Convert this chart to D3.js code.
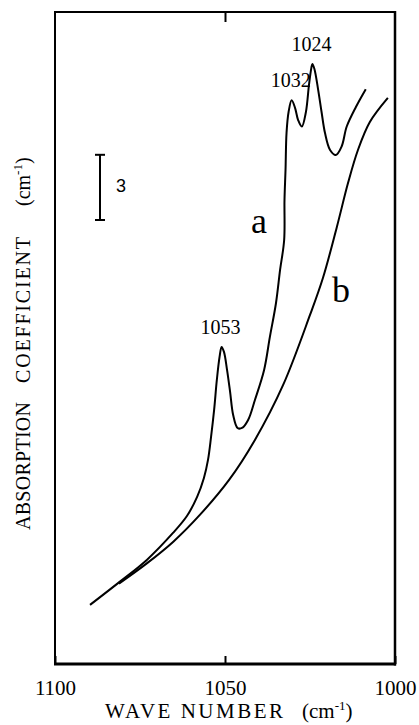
<!DOCTYPE html>
<html><head><meta charset="utf-8">
<script src="https://cdn.jsdelivr.net/npm/d3@7"></script>
<style>
html,body{margin:0;padding:0;background:#fff;}
svg{display:block;}
</style>
</head><body>
<svg id="chart" width="419" height="725"></svg>
<script>
// Curve a (wave number, absorption coefficient)
const waveA = [1089.7,1080.9,1073.0,1065.3,1061.2,1058.2,1056.2,1055.0,1054.1,1053.2,1052.4,1051.6,1051.0,1050.3,1049.4,1048.5,1047.6,1046.3,1045.0,1043.2,1041.2,1038.5,1036.8,1035.0,1033.8,1032.6,1032.5,1032.2,1031.9,1031.3,1030.4,1029.4,1028.5,1027.4,1026.2,1025.3,1024.6,1024.3,1023.7,1022.6,1021.6,1020.6,1019.1,1017.4,1015.7,1014.2,1011.5,1008.6];
const absA  = [2.72,3.79,4.79,6.03,6.81,7.69,8.56,9.39,10.45,11.69,13.07,14.13,14.59,14.36,13.53,12.52,11.46,10.86,10.86,11.23,12.15,13.53,15.05,16.61,18.13,19.51,21.35,22.73,24.44,25.40,25.94,25.59,25.03,24.73,25.40,26.65,27.43,27.61,27.38,26.42,25.40,24.44,23.65,23.42,23.81,24.73,25.63,26.45];
// Curve b
const waveB = [1081.2,1073.0,1065.2,1057.4,1048.8,1041.2,1032.9,1025.0,1021.2,1017.1,1013.8,1010.9,1007.4,1002.1];
const absB  = [3.70,4.63,5.63,6.86,8.47,10.31,12.84,16.06,17.76,20.11,22.14,23.65,24.94,26.05];
// Peak annotations
const peakLabels = ["1053","1032","1024"];
const peakWave = [1051.0,1030.4,1024.3];
const peakAbs  = [14.59,25.94,27.61];
// Axis ticks
const xTicks = [1100,1050,1000];
const xTickLabels = ["1100","1050","1000"];
const scaleBarValue = 3;

const svg = d3.select("#chart");
const L = 55, R = 395, T = 12, B = 664;
const x = d3.scaleLinear().domain([1100,1000]).range([L,R]);
const y = d3.scaleLinear().domain([0,30]).range([B,T]);
const serif = "'Liberation Serif','Times New Roman',serif";

// frame
svg.append("line").attr("x1",L).attr("x2",R).attr("y1",T).attr("y2",T).attr("stroke","#000").attr("stroke-width",2);
svg.append("line").attr("x1",L).attr("x2",L).attr("y1",T-1).attr("y2",B+1).attr("stroke","#000").attr("stroke-width",2);
svg.append("line").attr("x1",R).attr("x2",R).attr("y1",T-1).attr("y2",B+1.5).attr("stroke","#000").attr("stroke-width",2.5);
svg.append("line").attr("x1",L-1).attr("x2",R+1).attr("y1",B).attr("y2",B).attr("stroke","#000").attr("stroke-width",3);

// bottom axis (inward ticks)
const xb = svg.append("g").attr("transform",`translate(0,${B})`)
  .call(d3.axisBottom(x).tickValues(xTicks).tickFormat((d,i)=>xTickLabels[i]).tickSizeInner(-8).tickSizeOuter(0).tickPadding(20));
xb.select(".domain").remove();
xb.selectAll(".tick line").attr("stroke","#000").attr("stroke-width",2);
xb.selectAll(".tick text").attr("font-family",serif).attr("font-size",21).attr("fill","#000").attr("dy","0.5em");

// top axis (single inward tick)
const xt = svg.append("g").attr("transform",`translate(0,${T})`)
  .call(d3.axisTop(x).tickValues([1050]).tickFormat("").tickSizeInner(-10).tickSizeOuter(0));
xt.select(".domain").remove();
xt.selectAll(".tick line").attr("stroke","#000").attr("stroke-width",2);

// curves
const line = d3.line().x(d=>x(d[0])).y(d=>y(d[1])).curve(d3.curveCatmullRom.alpha(0.5));
svg.append("path").datum(waveA.map((w,i)=>[w,absA[i]])).attr("d",line)
  .attr("fill","none").attr("stroke","#000").attr("stroke-width",2).attr("stroke-linejoin","round");
svg.append("path").datum(waveB.map((w,i)=>[w,absB[i]])).attr("d",line)
  .attr("fill","none").attr("stroke","#000").attr("stroke-width",2).attr("stroke-linejoin","round");

// peak labels
peakLabels.forEach((t,i)=>{
  svg.append("text").attr("x",x(peakWave[i])-1).attr("y",y(peakAbs[i])-13)
    .attr("text-anchor","middle").attr("font-family",serif).attr("font-size",20)
    .attr("textLength",40).attr("lengthAdjust","spacingAndGlyphs").text(t);
});

// curve labels
svg.append("text").attr("x",259).attr("y",233).attr("text-anchor","middle")
  .attr("font-family",serif).attr("font-size",36).text("a");
svg.append("text").attr("x",341).attr("y",302).attr("text-anchor","middle")
  .attr("font-family",serif).attr("font-size",36).text("b");

// scale bar (3 units)
const sbx = 100;
const sb0 = 220, sb1 = sb0 - (y(0)-y(scaleBarValue));
svg.append("line").attr("x1",sbx).attr("x2",sbx).attr("y1",sb0).attr("y2",sb1).attr("stroke","#000").attr("stroke-width",2);
[sb0,sb1].forEach(v=>svg.append("line").attr("x1",sbx-5).attr("x2",sbx+5).attr("y1",v).attr("y2",v).attr("stroke","#000").attr("stroke-width",2));
svg.append("text").attr("x",116).attr("y",192).attr("font-family","'Liberation Sans',Arial,sans-serif").attr("font-size",18).text(String(scaleBarValue));

// x axis title
const xt1 = svg.append("text").attr("y",718).attr("font-family",serif).attr("font-size",21);
xt1.append("tspan").attr("x",105).attr("textLength",178).attr("lengthAdjust","spacing").text("WAVE NUMBER");
const xt2 = svg.append("text").attr("x",302).attr("y",718).attr("font-family",serif).attr("font-size",21);
xt2.append("tspan").text("(cm");
xt2.append("tspan").attr("font-size",13).attr("dy",-8).text("-1");
xt2.append("tspan").attr("dy",8).text(")");

// y axis title (rotated)
function yWord(cy, len, txt){
  svg.append("text").attr("transform",`translate(30,${cy}) rotate(-90)`)
    .attr("text-anchor","middle").attr("font-family",serif).attr("font-size",20)
    .attr("textLength",len).attr("lengthAdjust","spacing").text(txt);
}
yWord(466,128,"ABSORPTION");
yWord(310,146,"COEFFICIENT");
const yt = svg.append("text").attr("transform","translate(30,206) rotate(-90)")
  .attr("font-family",serif).attr("font-size",20);
yt.append("tspan").text("(cm");
yt.append("tspan").attr("font-size",13).attr("dy",-8).text("-1");
yt.append("tspan").attr("dy",8).text(")");
</script>
</body></html>
